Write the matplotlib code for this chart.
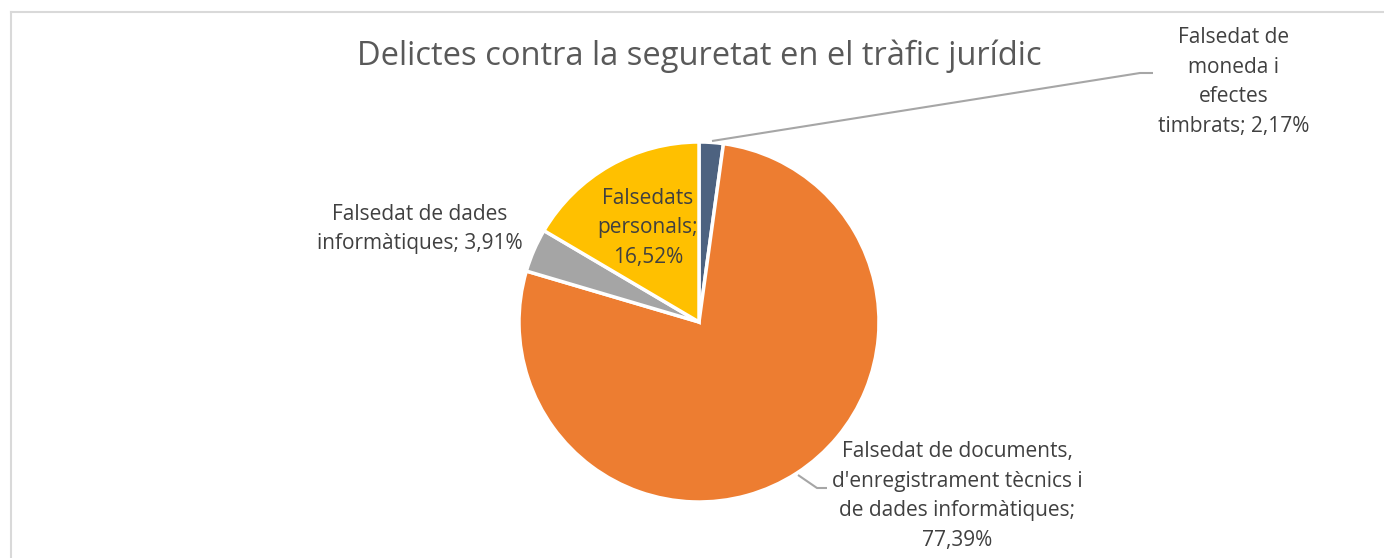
import matplotlib.pyplot as plt
from matplotlib.lines import Line2D

# slices, clockwise from 12 o'clock
names = [
    "Falsedat de\nmoneda i\nefectes\ntimbrats",
    "Falsedat de documents,\nd'enregistrament tècnics i\nde dades informàtiques",
    "Falsedat de dades\ninformàtiques",
    "Falsedats\npersonals",
]
shares = [2.17, 77.39, 3.91, 16.52]
colors = ["#4D6280", "#ED7D31", "#A5A5A5", "#FFC000"]

# label centres in pixels (x, y from top)
label_pos = [(1234, 82), (957, 496), (420, 229), (648, 228)]

W, H = 1384, 558


def fmt(name, value):
    sep = "\n" if name.startswith("Falsedat de documents") or name.startswith("Falsedats") else " "
    return "{};{}{:.2f}%".format(name, sep, value).replace(".", ",")


def main():
    plt.rcParams['font.family'] = ['Open Sans', 'DejaVu Sans']
    fig = plt.figure(figsize=(W / 100, H / 100), dpi=100)
    ax = fig.add_axes([0, 0, 1, 1])

    cx, cy, r = 699, H - 322, 180
    ax.pie(shares, colors=colors, startangle=90, counterclock=False,
           center=(cx, cy), radius=r, frame=True,
           wedgeprops=dict(edgecolor='white', linewidth=2.5))
    ax.set_xlim(0, W)
    ax.set_ylim(0, H)
    ax.set_aspect('equal')
    ax.axis('off')

    ax.text(699, H - 56, "Delictes contra la seguretat en el tràfic jurídic",
            ha='center', va='center', fontsize=23.5, color='#595959')

    for name, value, (x, y) in zip(names, shares, label_pos):
        ax.text(x, H - y, fmt(name, value), ha='center', va='center',
                multialignment='center', fontsize=15, color='#404040',
                linespacing=1.55)

    # leader lines
    lc = '#A6A6A6'
    ax.plot([712, 1140, 1153], [H - 141, H - 73, H - 73], color=lc, lw=1.5,
            solid_capstyle='butt')
    ax.plot([798, 817, 827], [H - 475, H - 488, H - 488], color=lc, lw=1.5,
            solid_capstyle='butt')

    # chart frame
    fig.add_artist(Line2D([10.5 / W, 10.5 / W], [0, 1 - 11.5 / H],
                          color='#D9D9D9', lw=1.5))
    fig.add_artist(Line2D([10.5 / W, 1], [1 - 11.5 / H, 1 - 11.5 / H],
                          color='#D9D9D9', lw=1.5))

    fig.savefig('out.png', dpi=100)


if __name__ == "__main__":
    main()
